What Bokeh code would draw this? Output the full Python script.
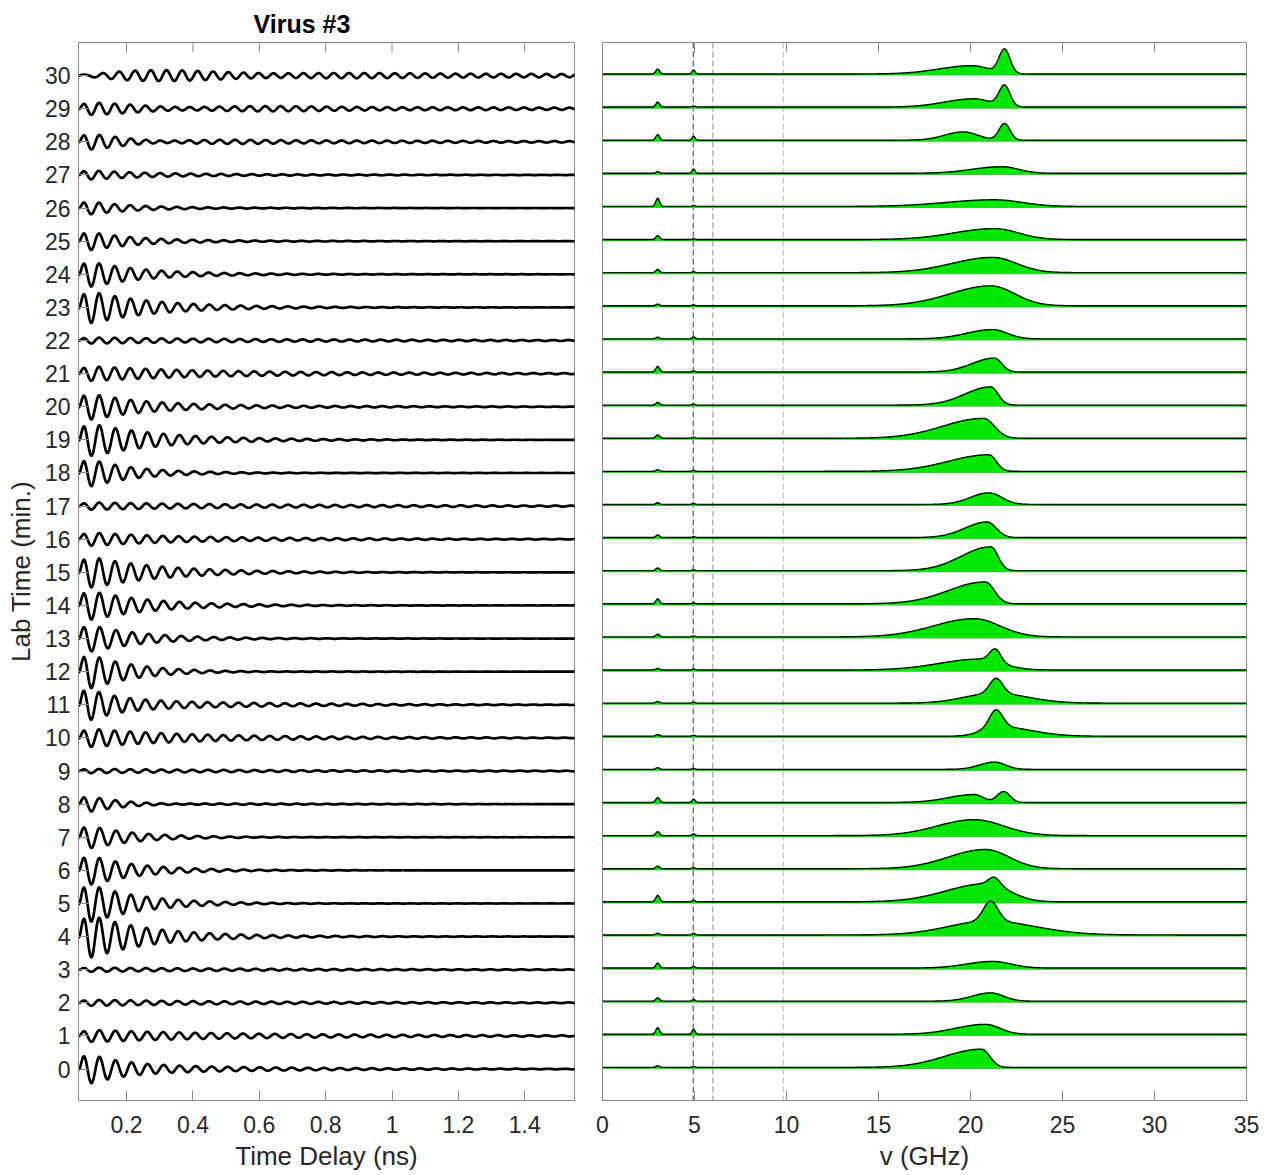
import numpy as np
from bokeh.plotting import figure
from bokeh.layouts import row
from bokeh.models import FixedTicker, LinearAxis, Span, CustomLabelingPolicy
from bokeh.embed import file_html
from bokeh.resources import INLINE

# ---------------- data ----------------
lab_time = list(range(31))                       # minutes, one trace per row
y_tick_labels = [str(v) for v in lab_time]

x1_ticks = [0.2, 0.4, 0.6, 0.8, 1.0, 1.2, 1.4]
x1_tick_labels = ["0.2", "0.4", "0.6", "0.8", "1", "1.2", "1.4"]
x2_ticks = [0, 5, 10, 15, 20, 25, 30, 35]
marker_freqs = [4.93, 6.0, 9.82]                 # dashed reference lines (GHz)

# time-domain traces: fast (damped) and slow (long-lived) oscillation per row
fast_amp = [0.45, 0.10, 0.05, 0.03, 0.75, 0.68, 0.55, 0.42, 0.27, 0.03, 0.15,
            0.50, 0.62, 0.48, 0.50, 0.52, 0.13, 0.05, 0.52, 0.55, 0.42, 0.15,
            0.04, 0.55, 0.45, 0.32, 0.23, 0.12, 0.20, 0.10, 0.18]
fast_tau = [0.10, 0.30, 0.30, 0.30, 0.17, 0.15, 0.14, 0.13, 0.10, 0.30, 0.20,
            0.08, 0.13, 0.15, 0.17, 0.20, 0.20, 0.30, 0.13, 0.20, 0.15, 0.25,
            0.30, 0.18, 0.15, 0.13, 0.12, 0.15, 0.15, 0.30, 0.25]
fast_freq = [20.6, 20.8, 21.1, 21.2, 21.0, 20.9, 20.7, 20.3, 20.3, 21.3, 21.2,
             21.3, 20.7, 20.3, 20.7, 21.0, 20.9, 21.0, 20.9, 20.7, 21.0, 21.3,
             21.2, 21.1, 21.2, 21.3, 21.3, 21.5, 20.0, 20.3, 20.2]
slow_amp = [0.15, 0.10, 0.05, 0.04, 0.06, 0.05, 0.03, 0.03, 0.05, 0.04, 0.17,
            0.18, 0.06, 0.04, 0.05, 0.05, 0.10, 0.07, 0.03, 0.05, 0.08, 0.10,
            0.06, 0.05, 0.04, 0.04, 0.03, 0.05, 0.09, 0.11, 0.13]
slow_freq = [20.7, 20.8, 21.2, 21.2, 21.1, 21.3, 20.8, 20.5, 21.8, 21.3, 21.4,
             21.4, 21.35, 20.5, 20.8, 21.1, 20.9, 21.1, 21.0, 20.8, 21.1, 21.4,
             21.2, 21.1, 21.2, 21.3, 21.3, 21.7, 21.85, 21.85, 21.85]
slow_tau = [0.5, 0.8, 1.0, 1.0, 0.5, 0.4, 0.4, 0.4, 0.5, 1.0, 0.5,
            0.45, 0.4, 0.4, 0.4, 0.4, 0.6, 1.0, 0.4, 0.5, 0.6, 0.8,
            1.0, 0.5, 0.5, 0.5, 0.5, 0.6, 1.0, 1.2, 1.5]
slow_phase = [0.0] * 30 + [0.5]                  # cycles
t_start, t_peak, rise_time = 0.055, 0.07, 0.012  # ns

# spectra: broad asymmetric peak + narrow peak + small low-frequency lines
broad_center = [20.6, 20.8, 21.1, 21.2, 21.0, 20.9, 20.8, 20.2, 20.2, 21.3, 21.4,
                21.3, 20.5, 20.2, 20.8, 21.1, 20.9, 21.0, 21.0, 20.7, 21.1, 21.3,
                21.2, 21.1, 21.2, 21.3, 21.3, 21.7, 19.6, 20.2, 20.1]
broad_height = [0.55, 0.30, 0.25, 0.20, 0.42, 0.55, 0.58, 0.48, 0.24, 0.22, 0.30,
                0.30, 0.33, 0.55, 0.66, 0.72, 0.47, 0.35, 0.50, 0.60, 0.55, 0.42,
                0.28, 0.60, 0.46, 0.33, 0.20, 0.20, 0.25, 0.25, 0.25]
broad_left = [2.0, 1.6, 1.0, 1.4, 2.2, 2.2, 2.0, 2.0, 1.4, 0.8, 0.8,
              1.6, 2.2, 2.2, 2.0, 1.6, 1.2, 1.0, 2.2, 2.2, 1.4, 1.2,
              1.4, 2.2, 2.2, 2.2, 2.6, 1.6, 1.0, 1.6, 1.8]
broad_right = [0.45, 0.8, 0.7, 1.0, 2.5, 1.2, 1.3, 1.6, 0.5, 0.6, 1.8,
               1.8, 1.2, 1.4, 0.5, 0.4, 0.5, 0.7, 0.4, 0.6, 0.4, 0.4,
               0.8, 1.3, 1.3, 1.3, 1.5, 0.9, 0.8, 0.9, 0.9]
narrow_center = [21.0, 21.0, 21.0, 21.0, 21.1, 21.3, 21.0, 21.0, 21.8, 21.0, 21.4,
                 21.4, 21.35, 21.0, 21.0, 21.0, 21.0, 21.0, 21.0, 21.0, 21.0, 21.0,
                 21.0, 21.0, 21.0, 21.0, 21.0, 21.0, 21.85, 21.85, 21.85]
narrow_height = [0, 0, 0, 0, 0.60, 0.22, 0, 0, 0.33, 0, 0.50,
                 0.45, 0.38, 0, 0, 0, 0, 0, 0, 0, 0, 0,
                 0, 0, 0, 0, 0, 0, 0.50, 0.62, 0.72]
narrow_width = [0.3, 0.3, 0.3, 0.3, 0.4, 0.3, 0.3, 0.3, 0.35, 0.3, 0.35,
                0.35, 0.3, 0.3, 0.3, 0.3, 0.3, 0.3, 0.3, 0.3, 0.3, 0.3,
                0.3, 0.3, 0.3, 0.3, 0.3, 0.3, 0.3, 0.3, 0.3]
line3_height = [0.05, 0.20, 0.10, 0.15, 0.05, 0.20, 0.08, 0.12, 0.15, 0.05, 0.05,
                0.05, 0.05, 0.08, 0.15, 0.08, 0.08, 0.05, 0.05, 0.10, 0.08, 0.17,
                0.05, 0.05, 0.10, 0.12, 0.25, 0.05, 0.17, 0.15, 0.15]
line5_height = [0.03, 0.15, 0.05, 0.05, 0.05, 0.05, 0.03, 0.05, 0.10, 0.03, 0.03,
                0.03, 0.03, 0.03, 0.03, 0.03, 0.03, 0.03, 0.03, 0.03, 0.03, 0.03,
                0.06, 0.03, 0.03, 0.03, 0.03, 0.13, 0.12, 0.03, 0.12]
line3_freq, line5_freq, spec_floor = 3.0, 4.95, 0.05

title_text = "Virus #3"

# ---------------- build curves ----------------
t = np.arange(0.055, 1.5501, 0.002)
fq = np.arange(0.0, 35.0001, 0.05)

trace_xs, trace_ys = [], []
for i, lt in enumerate(lab_time):
    rise = 1 - np.exp(-(t - t_start) / rise_time)
    y = (fast_amp[i] * np.exp(-(t - t_start) / fast_tau[i])
         * np.cos(2 * np.pi * fast_freq[i] * (t - t_peak))
         + slow_amp[i] * np.exp(-(t - t_start) / slow_tau[i])
         * np.cos(2 * np.pi * (slow_freq[i] * (t - t_peak) + slow_phase[i])))
    trace_xs.append(t)
    trace_ys.append(lt + rise * y)

spec_xs, spec_ys, fill_xs, fill_ys = [], [], [], []
for i, lt in enumerate(lab_time):
    w = np.where(fq < broad_center[i], broad_left[i], broad_right[i])
    s = (spec_floor
         + broad_height[i] * np.exp(-0.5 * ((fq - broad_center[i]) / w) ** 2)
         + narrow_height[i] * np.exp(-0.5 * ((fq - narrow_center[i]) / narrow_width[i]) ** 2)
         + line3_height[i] * np.exp(-0.5 * ((fq - line3_freq) / 0.1) ** 2)
         + line5_height[i] * np.exp(-0.5 * ((fq - line5_freq) / 0.08) ** 2))
    spec_xs.append(fq)
    spec_ys.append(lt + s)
    fill_xs.append(np.concatenate([fq, fq[::-1]]))
    fill_ys.append(np.concatenate([lt + s, np.full_like(fq, lt)]))

# ---------------- styling ----------------
FONT = "Liberation Sans"
TXT = "#262626"
AX = "#8c8c8c"
Y_RANGE = (-0.95, 31.0)
FRAME_H = 1058          # px, frame height (42 .. 1100)
TICK_PX = 10
NO_LABELS = CustomLabelingPolicy(code="""
const n = indices.size
for (let i = 0; i < n; i++) indices.unset(i)
return indices
""")


def style_axis(ax):
    ax.axis_line_color = AX
    ax.major_tick_line_color = AX
    ax.major_tick_in = TICK_PX
    ax.major_tick_out = 0
    ax.minor_tick_in = 0
    ax.minor_tick_out = 0
    ax.major_label_text_font = FONT
    ax.major_label_text_font_size = "23px"
    ax.major_label_text_color = TXT
    ax.axis_label_text_font = FONT
    ax.axis_label_text_font_size = "26px"
    ax.axis_label_text_font_style = "normal"
    ax.axis_label_text_color = TXT


def make_fig(width, x_range, ticks, xlabel, left_border, right_border, top_axis):
    p = figure(width=width, height=1175, x_range=x_range, y_range=Y_RANGE,
               output_backend="svg", toolbar_location=None,
               min_border_left=left_border, min_border_right=right_border,
               min_border_top=42, min_border_bottom=75)
    p.xgrid.visible = False
    p.ygrid.visible = False
    p.outline_line_color = AX
    p.outline_line_width = 1
    p.outline_line_alpha = 1
    bottom = p.below[0]
    bottom.ticker = FixedTicker(ticks=ticks)
    bottom.axis_label = xlabel
    bottom.major_label_standoff = 15
    bottom.axis_label_standoff = 5
    style_axis(bottom)
    style_axis(p.left[0])
    if top_axis:
        top = LinearAxis(ticker=FixedTicker(ticks=ticks), major_label_policy=NO_LABELS)
        style_axis(top)
        top.major_label_standoff = 0
        top.axis_label_standoff = 0
        p.add_layout(top, "above")
    else:
        # mirrored top tick marks (same ticks as the bottom axis)
        tick_len = TICK_PX * (Y_RANGE[1] - Y_RANGE[0]) / FRAME_H
        p.segment(x0=ticks, x1=ticks, y0=[Y_RANGE[1]] * len(ticks),
                  y1=[Y_RANGE[1] - tick_len] * len(ticks), line_color=AX, line_width=1)
    return p, bottom


p1, b1 = make_fig(588, (0.055, 1.55), x1_ticks, "Time Delay (ns)", 78, 14, False)
b1.major_label_overrides = {v: s for v, s in zip(x1_ticks, x1_tick_labels)}
yax = p1.left[0]
yax.ticker = FixedTicker(ticks=lab_time)
yax.major_label_overrides = {v: s for v, s in zip(lab_time, y_tick_labels)}
yax.axis_label = "Lab Time (min.)"
yax.major_label_standoff = 8
yax.axis_label_standoff = 6

p1.title.text = title_text
p1.title.text_font = FONT
p1.title.text_font_size = "25px"
p1.title.text_font_style = "bold"
p1.title.text_color = "#000000"
p1.title.align = "left"
p1.title.offset = 175
p1.title.standoff = 9

p1.multi_line(xs=trace_xs, ys=trace_ys, line_color="black", line_width=2.7,
              line_join="round", line_cap="round")

p2, b2 = make_fig(676, (0, 35), x2_ticks, "v (GHz)", 14, 18, True)
p2.left[0].visible = False

for fx, col in zip(marker_freqs, ["#3a3a3a", "#8a8a8a", "#b4b4b4"]):
    p2.add_layout(Span(location=fx, dimension="height", line_color=col,
                       line_width=1, line_dash="6 3", level="underlay"))

p2.patches(xs=fill_xs, ys=fill_ys, fill_color="#00e600", line_color=None)
p2.multi_line(xs=spec_xs, ys=spec_ys, line_color="black", line_width=1.4,
              line_join="round")

layout = row(p1, p2)
open("out.html", "w").write(file_html(layout, INLINE))
